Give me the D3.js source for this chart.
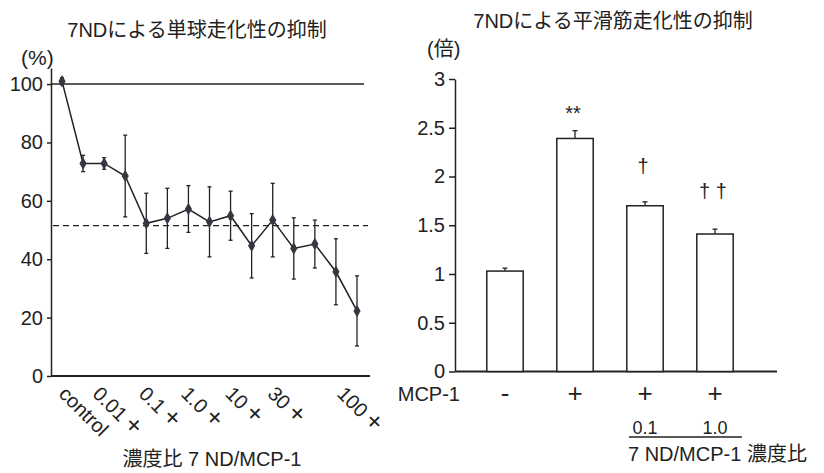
<!DOCTYPE html>
<html>
<head>
<meta charset="utf-8">
<script src="https://cdn.jsdelivr.net/npm/d3@7"></script>
<style>
  body { margin: 0; background: #fff; }
  text { font-family: "Liberation Sans", "Noto Sans CJK JP", sans-serif; fill: #222; }
</style>
</head>
<body>
<script>
var w = 824;
var h = 473;

// left chart: 単球走化性 (% of control)
var monoValues = [101, 72.8, 72.8, 68.5, 52.3, 54, 57.2, 52.8, 54.9, 44.6, 53.4, 43.7, 45.2, 35.7, 22.3];
var monoErr = [1.2, 2.8, 2, 14, 10.3, 10.3, 8, 12, 8.4, 11, 12.6, 10.5, 8.2, 11.3, 12];
var monoTickLabels = ["control", "0.01", "0.1", "1.0", "10", "30", "100"];
var monoTickMark = ["", "+", "+", "+", "+", "+", "+"];
var monoTickAt = [-0.2, 1.4, 3.6, 5.6, 7.7, 9.7, 13.0];
var monoYTicks = [0, 20, 40, 60, 80, 100];
var refFull = 100;
var refHalf = 51.5;

// right chart: 平滑筋走化性 (fold)
var smcCats = ["a", "b", "c", "d"];
var smcValues = [1.03, 2.39, 1.70, 1.41];
var smcErr = [0.03, 0.08, 0.04, 0.05];
var smcMcp = ["-", "+", "+", "+"];
var smcRatio = ["", "", "0.1", "1.0"];
var smcSig = ["", "**", "†", "† †"];
var smcSigAt = [0, 2.58, 2.04, 1.78];
var smcYTicks = [0, 0.5, 1, 1.5, 2, 2.5, 3];

var svg = d3.select("body")
    .append("svg")
    .attr("width", w)
    .attr("height", h);

//----- left panel
var xL = d3.scaleLinear().domain([0, 14]).range([62, 357]);
var yL = d3.scaleLinear().domain([0, 105.5]).range([376, 68]);
var leftX0 = 51, leftX1 = 370;

svg.append("g")
    .attr("transform", "translate(" + leftX0 + ",0)")
    .call(d3.axisLeft(yL).tickValues(monoYTicks).tickSize(4).tickPadding(4).tickSizeOuter(0))
    .call(g => g.selectAll("text").style("font-size", "20px").attr("fill", "#222"))
    .call(g => g.selectAll("path,line").attr("stroke", "#222").attr("stroke-width", 1.5));

svg.append("line")
    .attr("x1", leftX0).attr("x2", leftX1)
    .attr("y1", yL(0)).attr("y2", yL(0))
    .attr("stroke", "#222").attr("stroke-width", 2);

// reference lines
svg.append("line")
    .attr("x1", leftX0).attr("x2", 364)
    .attr("y1", yL(refFull)).attr("y2", yL(refFull))
    .attr("stroke", "#222").attr("stroke-width", 1.5);

svg.append("line")
    .attr("x1", leftX0 + 2).attr("x2", 368)
    .attr("y1", yL(refHalf)).attr("y2", yL(refHalf))
    .attr("stroke", "#222").attr("stroke-width", 1.3)
    .attr("stroke-dasharray", "6,4");

// error bars
var eb = svg.append("g").attr("stroke", "#222").attr("stroke-width", 1.3);
monoValues.forEach(function(v, i) {
    var x = xL(i);
    eb.append("line").attr("x1", x).attr("x2", x)
        .attr("y1", yL(v + monoErr[i])).attr("y2", yL(v - monoErr[i]));
    eb.append("line").attr("x1", x - 2).attr("x2", x + 2)
        .attr("y1", yL(v + monoErr[i])).attr("y2", yL(v + monoErr[i]));
    eb.append("line").attr("x1", x - 2).attr("x2", x + 2)
        .attr("y1", yL(v - monoErr[i])).attr("y2", yL(v - monoErr[i]));
});

// line
svg.append("path")
    .datum(monoValues)
    .attr("fill", "none")
    .attr("stroke", "#222")
    .attr("stroke-width", 1.5)
    .attr("d", d3.line().x((d, i) => xL(i)).y(d => yL(d)));

// dots
svg.selectAll(".dot")
    .data(monoValues)
    .enter()
    .append("path")
    .attr("class", "dot")
    .attr("transform", (d, i) => "translate(" + xL(i) + "," + yL(d) + ")")
    .attr("d", d3.symbol().type(d3.symbolDiamond).size(45))
    .attr("fill", "#3b3340");

// rotated x labels
var xlab = svg.selectAll(".xlab")
    .data(monoTickLabels)
    .enter()
    .append("text")
    .attr("class", "xlab")
    .attr("transform", (d, i) => "translate(" + xL(monoTickAt[i]) + ",395) rotate(45)")
    .style("font-size", "20px");
xlab.append("tspan").text(d => d);
xlab.append("tspan")
    .attr("dx", 5)
    .style("font-size", "26px")
    .text((d, i) => monoTickMark[i]);

// titles
svg.append("text")
    .text("7NDによる単球走化性の抑制")
    .attr("x", 197).attr("y", 37)
    .attr("text-anchor", "middle")
    .style("font-size", "20px");

svg.append("text")
    .text("(%)")
    .attr("x", 21).attr("y", 65)
    .style("font-size", "21px");

svg.append("text")
    .text("濃度比 7 ND/MCP-1")
    .attr("x", 212).attr("y", 466)
    .attr("text-anchor", "middle")
    .style("font-size", "20px");

//----- right panel
var axR = 455;
var xR = d3.scaleBand().domain(smcCats).range([470, 750]).paddingInner(0.48).paddingOuter(0.24);
var yR = d3.scaleLinear().domain([0, 3]).range([371.5, 79]);

svg.append("g")
    .attr("transform", "translate(" + axR + ",0)")
    .call(d3.axisLeft(yR).tickValues(smcYTicks).tickFormat(d => String(d)).tickSize(6).tickPadding(4).tickSizeOuter(0))
    .call(g => g.selectAll("text").style("font-size", "20px").attr("fill", "#222"))
    .call(g => g.selectAll("path,line").attr("stroke", "#222").attr("stroke-width", 1.5));

svg.append("line")
    .attr("x1", axR).attr("x2", 777)
    .attr("y1", yR(0)).attr("y2", yR(0))
    .attr("stroke", "#222").attr("stroke-width", 2);

// bars
svg.selectAll(".bar")
    .data(smcValues)
    .enter()
    .append("rect")
    .attr("class", "bar")
    .attr("x", (d, i) => xR(smcCats[i]))
    .attr("y", d => yR(d))
    .attr("width", xR.bandwidth())
    .attr("height", d => yR(0) - yR(d))
    .attr("fill", "#fff")
    .attr("stroke", "#222")
    .attr("stroke-width", 1.5);

// upper error bars
var ebR = svg.append("g").attr("stroke", "#222").attr("stroke-width", 1.3);
smcValues.forEach(function(v, i) {
    var cx = xR(smcCats[i]) + xR.bandwidth() / 2;
    ebR.append("line").attr("x1", cx).attr("x2", cx)
        .attr("y1", yR(v)).attr("y2", yR(v + smcErr[i]));
    ebR.append("line").attr("x1", cx - 2.5).attr("x2", cx + 2.5)
        .attr("y1", yR(v + smcErr[i])).attr("y2", yR(v + smcErr[i]));
});

// significance marks
svg.selectAll(".sig")
    .data(smcSig)
    .enter()
    .append("text")
    .attr("class", "sig")
    .attr("x", (d, i) => xR(smcCats[i]) + xR.bandwidth() / 2 - 2)
    .attr("y", (d, i) => yR(smcSigAt[i]))
    .attr("text-anchor", "middle")
    .style("font-size", "20px")
    .text(d => d);

// MCP-1 row
svg.append("text")
    .text("MCP-1")
    .attr("x", 460).attr("y", 401)
    .attr("text-anchor", "end")
    .style("font-size", "20px");

svg.selectAll(".mcp")
    .data(smcMcp)
    .enter()
    .append("text")
    .attr("class", "mcp")
    .attr("x", (d, i) => xR(smcCats[i]) + xR.bandwidth() / 2)
    .attr("y", 402)
    .attr("text-anchor", "middle")
    .style("font-size", "26px")
    .text(d => d);

svg.selectAll(".ratio")
    .data(smcRatio)
    .enter()
    .append("text")
    .attr("class", "ratio")
    .attr("x", (d, i) => xR(smcCats[i]) + xR.bandwidth() / 2)
    .attr("y", 434)
    .attr("text-anchor", "middle")
    .style("font-size", "18px")
    .text(d => d);

svg.append("line")
    .attr("x1", 629).attr("x2", 742)
    .attr("y1", 437).attr("y2", 437)
    .attr("stroke", "#222").attr("stroke-width", 1.3);

svg.append("text")
    .text("7 ND/MCP-1 濃度比")
    .attr("x", 628).attr("y", 461)
    .style("font-size", "20px");

svg.append("text")
    .text("7NDによる平滑筋走化性の抑制")
    .attr("x", 613).attr("y", 28)
    .attr("text-anchor", "middle")
    .style("font-size", "20px");

svg.append("text")
    .text("(倍)")
    .attr("x", 427).attr("y", 56)
    .style("font-size", "20px");
</script>
</body>
</html>
